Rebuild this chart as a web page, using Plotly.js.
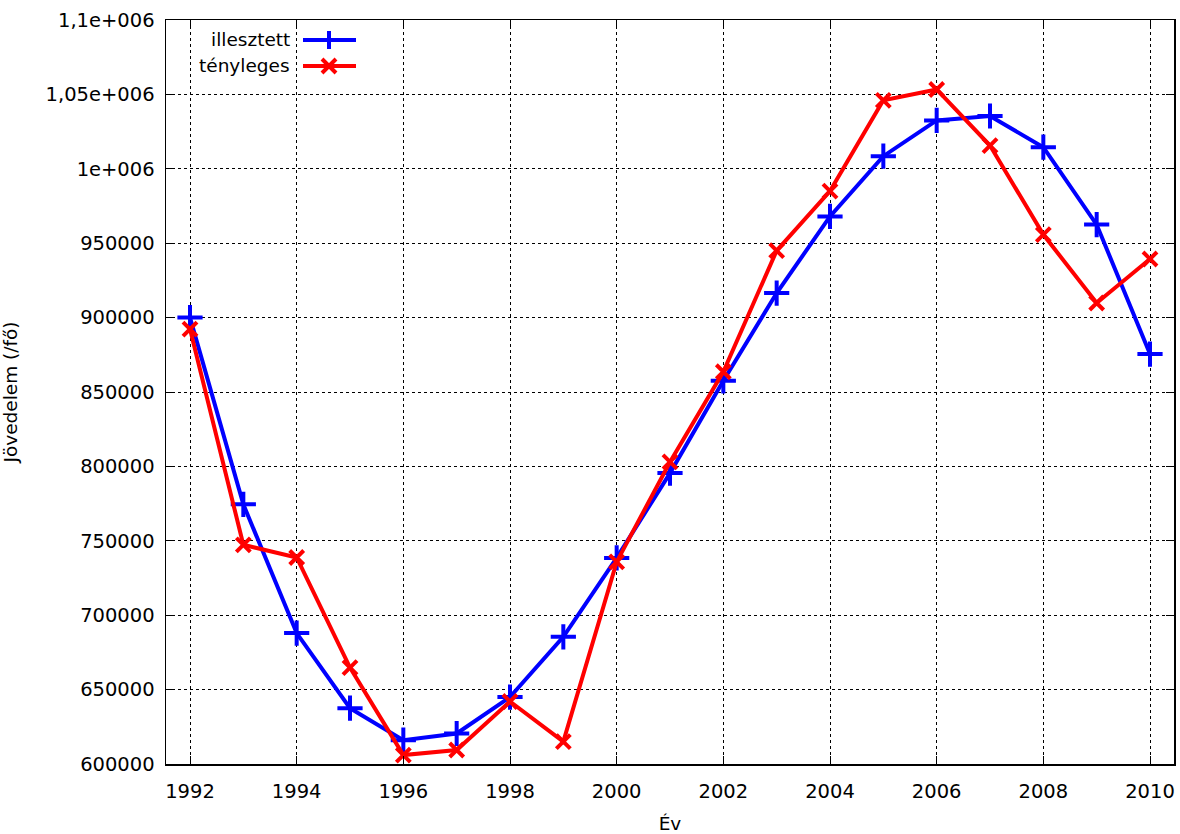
<!DOCTYPE html>
<html>
<head>
<meta charset="utf-8">
<script src="https://cdn.plot.ly/plotly-3.0.1.min.js"></script>
<style>html,body{margin:0;padding:0;background:#fff;}#chart{width:1180px;height:834px;}</style>
</head>
<body>
<div id="chart"></div>
<script>
const years = [1992,1993,1994,1995,1996,1997,1998,1999,2000,2001,2002,2003,2004,2005,2006,2007,2008,2009,2010];
const illesztett = [900000,774500,688000,637500,616000,620500,645000,685500,738500,795500,857500,916500,968000,1008500,1032500,1035500,1014500,962500,875500];
const tenyleges = [892300,747300,738800,664800,606000,609400,642000,615000,735800,803000,863600,945000,985000,1046000,1053300,1015600,955800,909800,939400];
const seriesNames = ['illesztett','tényleges'];
const yTickVals = [600000,650000,700000,750000,800000,850000,900000,950000,1000000,1050000,1100000];
const yTickText = ['600000','650000','700000','750000','800000','850000','900000','950000','1e+006','1,05e+006','1,1e+006'];
const xTickVals = [1992,1994,1996,1998,2000,2002,2004,2006,2008,2010];

const FONT = 'DejaVu Sans, Verdana, sans-serif';
const FS = 18.5;
const TFS = 19.5;
const W = 1180, H = 834;
const M = {l:166, r:6, t:20, b:70};
const pw = W - M.l - M.r, ph = H - M.t - M.b;
const px = x => (x - M.l) / pw;
const py = y => (H - M.b - y) / ph;

const traces = [
  {x: years, y: illesztett, name: seriesNames[0], mode: 'lines+markers',
   line: {color: '#0000ff', width: 4},
   marker: {symbol: 'cross-thin-open', size: 18, color: '#0000ff', line: {color: '#0000ff', width: 4}}},
  {x: years, y: tenyleges, name: seriesNames[1], mode: 'lines+markers',
   line: {color: '#ff0000', width: 4},
   marker: {symbol: 'x-thin-open', size: 14, color: '#ff0000', line: {color: '#ff0000', width: 4}}}
];

// legend (gnuplot-style: text left, sample right)
const legY = [40, 66];
const legColors = ['#0000ff', '#ff0000'];
const shapes = [];
const annotations = [];
for (let i = 0; i < 2; i++) {
  shapes.push({type: 'line', xref: 'paper', yref: 'paper', x0: px(303), x1: px(356), y0: py(legY[i]), y1: py(legY[i]),
    line: {color: legColors[i], width: 4}});
  const cx = 329, cy = legY[i];
  let path;
  if (i === 0) {
    const a = 9;
    path = `M ${px(cx-a)} ${py(cy)} L ${px(cx+a)} ${py(cy)} M ${px(cx)} ${py(cy-a)} L ${px(cx)} ${py(cy+a)}`;
  } else {
    const a = 7;
    path = `M ${px(cx-a)} ${py(cy-a)} L ${px(cx+a)} ${py(cy+a)} M ${px(cx-a)} ${py(cy+a)} L ${px(cx+a)} ${py(cy-a)}`;
  }
  shapes.push({type: 'path', xref: 'paper', yref: 'paper', path: path, line: {color: legColors[i], width: 4}});
  annotations.push({xref: 'paper', yref: 'paper', x: px(292), y: py(legY[i]), xanchor: 'right', yanchor: 'middle',
    text: seriesNames[i], showarrow: false, font: {family: FONT, size: FS, color: '#000'}});
}

const axisCommon = {
  showline: true, linecolor: '#000', linewidth: 1.5, mirror: 'ticks',
  ticks: 'inside', ticklen: 8, tickcolor: '#000', tickwidth: 1,
  showgrid: true, gridcolor: '#000', gridwidth: 1, griddash: '3px,3px',
  zeroline: false, tickfont: {family: FONT, size: TFS, color: '#000'}
};

const layout = {
  width: W, height: H,
  margin: M,
  paper_bgcolor: '#fff', plot_bgcolor: '#fff',
  showlegend: false,
  xaxis: Object.assign({}, axisCommon, {
    range: [1991.55, 2010.45], tickvals: xTickVals, ticktext: xTickVals.map(String),
    ticklabelstandoff: 9,
    title: {text: 'Év', font: {family: FONT, size: FS, color: '#000'}, standoff: 18}
  }),
  yaxis: Object.assign({}, axisCommon, {
    range: [600000, 1100000], tickvals: yTickVals, ticktext: yTickText,
    ticklabelstandoff: 6,
    title: {text: 'Jövedelem (/fő)', font: {family: FONT, size: FS, color: '#000'}, standoff: 32}
  }),
  shapes: shapes,
  annotations: annotations,
  font: {family: FONT, color: '#000'}
};

Plotly.newPlot('chart', traces, layout, {displayModeBar: false, staticPlot: true});
</script>
</body>
</html>
